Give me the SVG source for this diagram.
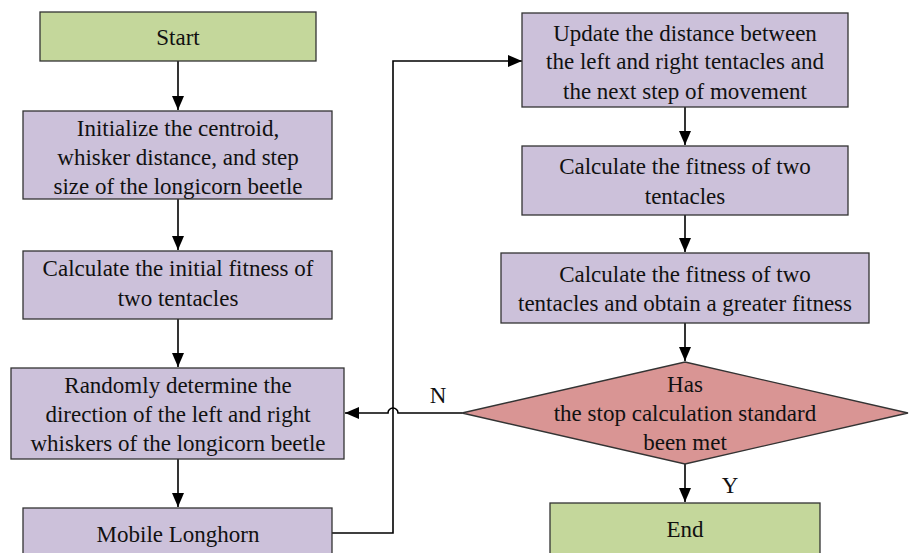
<svg xmlns="http://www.w3.org/2000/svg" width="912" height="553" viewBox="0 0 912 553">
  <style>
    .box { stroke: #333; stroke-width: 1.3; }
    .green { fill: #C4D79B; }
    .purple { fill: #CCC1DA; }
    .red { fill: #D99594; }
    text { font-family: "Liberation Serif", "Times New Roman", serif; font-size: 23px; fill: #111; text-anchor: middle; }
    .edge { fill: none; stroke: #000; stroke-width: 1.6; }
  </style>
  <defs>
    <marker id="arrow" viewBox="0 0 14 12" refX="14" refY="6" markerWidth="14" markerHeight="12" markerUnits="userSpaceOnUse" orient="auto">
      <path d="M0,0 L14,6 L0,12 Z" fill="#000"/>
    </marker>
  </defs>
  <rect width="912" height="553" fill="#fff"/>

  <g id="connectors">
    <path class="edge" d="M178,61 V110" marker-end="url(#arrow)"/>
    <path class="edge" d="M178,199 V250" marker-end="url(#arrow)"/>
    <path class="edge" d="M178,319 V367" marker-end="url(#arrow)"/>
    <path class="edge" d="M178,459 V507" marker-end="url(#arrow)"/>
    <path class="edge" d="M332,533 H393 V61 H522" marker-end="url(#arrow)"/>
    <path class="edge" d="M685,107 V145" marker-end="url(#arrow)"/>
    <path class="edge" d="M685,215 V252" marker-end="url(#arrow)"/>
    <path class="edge" d="M685,323 V361" marker-end="url(#arrow)"/>
    <path class="edge" d="M685,464 V502" marker-end="url(#arrow)"/>
    <path class="edge" d="M462,413 H398 A5,5 0 0 0 388,413 H345" marker-end="url(#arrow)"/>
    <text x="438" y="403">N</text>
    <text x="730" y="493">Y</text>
  </g>

  <g id="start">
    <rect class="box green" x="40" y="12" width="276" height="49"/>
    <text x="178" y="45">Start</text>
  </g>
  <g id="init">
    <rect class="box purple" x="23" y="111" width="309" height="88"/>
    <text x="178" y="136">Initialize the centroid,</text>
    <text x="178" y="165">whisker distance, and step</text>
    <text x="178" y="194">size of the longicorn beetle</text>
  </g>
  <g id="initial-fitness">
    <rect class="box purple" x="23" y="251" width="309" height="68"/>
    <text x="178" y="276">Calculate the initial fitness of</text>
    <text x="178" y="306">two tentacles</text>
  </g>
  <g id="random-direction">
    <rect class="box purple" x="11" y="368" width="333" height="91"/>
    <text x="178" y="393">Randomly determine the</text>
    <text x="178" y="422">direction of the left and right</text>
    <text x="178" y="451">whiskers of the longicorn beetle</text>
  </g>
  <g id="move">
    <rect class="box purple" x="23" y="508" width="309" height="60"/>
    <text x="178" y="542">Mobile Longhorn</text>
  </g>
  <g id="update">
    <rect class="box purple" x="522" y="13" width="326" height="94"/>
    <text x="685" y="41">Update the distance between</text>
    <text x="685" y="69">the left and right tentacles and</text>
    <text x="685" y="99">the next step of movement</text>
  </g>
  <g id="fitness">
    <rect class="box purple" x="522" y="146" width="326" height="69"/>
    <text x="685" y="174">Calculate the fitness of two</text>
    <text x="685" y="204">tentacles</text>
  </g>
  <g id="greater-fitness">
    <rect class="box purple" x="501" y="253" width="368" height="70"/>
    <text x="685" y="282">Calculate the fitness of two</text>
    <text x="685" y="311">tentacles and obtain a greater fitness</text>
  </g>
  <g id="stop-check">
    <polygon class="box red" points="685,362 908,413 685,464 462,413"/>
    <text x="685" y="392">Has</text>
    <text x="685" y="421">the stop calculation standard</text>
    <text x="685" y="450">been met</text>
  </g>
  <g id="end">
    <rect class="box green" x="550" y="503" width="270" height="60"/>
    <text x="685" y="537">End</text>
  </g>
</svg>
